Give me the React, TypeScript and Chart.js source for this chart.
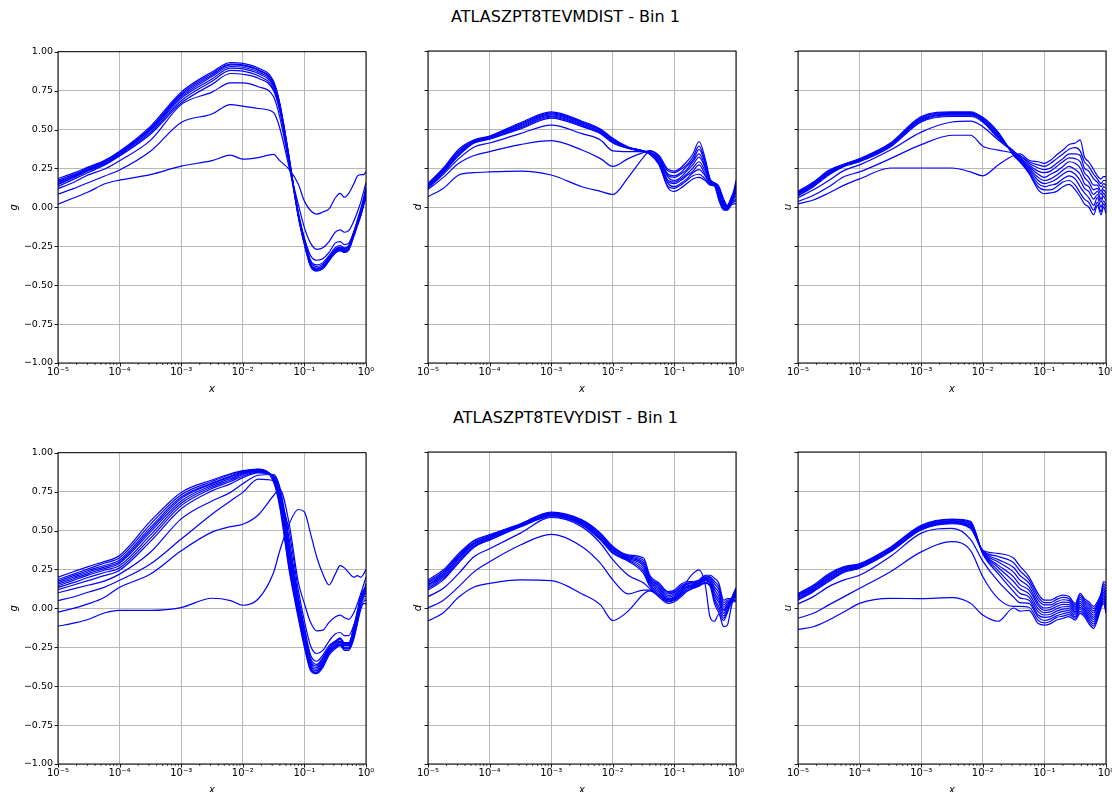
import React, { useEffect, useRef } from 'react';
import { Chart, registerables } from 'chart.js';
Chart.register(...registerables);

// ---------- data ----------
const LOGX = [-5, -4.75, -4.5, -4.25, -4, -3.5, -3, -2.5, -2.2, -2, -1.75, -1.5, -1.4, -1.25, -1.1, -1, -0.9, -0.8, -0.7, -0.6, -0.5, -0.42, -0.35, -0.28, -0.2, -0.14, -0.08, -0.04, 0];
const XS = LOGX.map((l) => Math.pow(10, l));

const X_TICKS = [1e-5, 1e-4, 1e-3, 1e-2, 1e-1, 1];
const X_TICK_LABELS = ['10⁻⁵', '10⁻⁴', '10⁻³', '10⁻²', '10⁻¹', '10⁰'];
const MINOR_MULT = [2, 3, 4, 5, 6, 7, 8, 9];
const Y_TICKS = [-1, -0.75, -0.5, -0.25, 0, 0.25, 0.5, 0.75, 1];
const Y_TICK_LABELS = ['−1.00', '−0.75', '−0.50', '−0.25', '0.00', '0.25', '0.50', '0.75', '1.00'];
const ROW_TITLES = ['ATLASZPT8TEVMDIST - Bin 1', 'ATLASZPT8TEVYDIST - Bin 1'];
const Y_NAMES = ['g', 'd', 'u'];

// top-left: g, MDIST
const MG_1 = [0.02,0.06,0.10,0.15,0.175,0.21,0.265,0.30,0.335,0.31,0.32,0.34,0.30,0.245,0.15,0.04,-0.02,-0.043,-0.03,-0.01,0.06,0.09,0.065,0.09,0.15,0.2,0.21,0.21,0.23];
const MG_2 = [0.085,0.12,0.16,0.20,0.24,0.36,0.545,0.60,0.66,0.65,0.635,0.61,0.51,0.26,0.02,-0.13,-0.23,-0.27,-0.26,-0.22,-0.16,-0.145,-0.16,-0.15,-0.09,-0.03,0.04,0.1,0.16];
const MG_3 = [0.12,0.16,0.21,0.245,0.30,0.43,0.66,0.74,0.80,0.80,0.775,0.71,0.58,0.28,-0.05,-0.2,-0.31,-0.34,-0.33,-0.29,-0.23,-0.22,-0.24,-0.23,-0.16,-0.08,0.0,0.06,0.13];
const MG_4 = [0.135,0.18,0.225,0.27,0.33,0.47,0.67,0.79,0.86,0.855,0.83,0.75,0.62,0.30,-0.03,-0.2,-0.34,-0.37,-0.355,-0.31,-0.26,-0.245,-0.26,-0.245,-0.16,-0.09,-0.02,0.04,0.12];
const MG_5 = [0.145,0.19,0.235,0.275,0.335,0.48,0.685,0.81,0.88,0.875,0.845,0.76,0.63,0.305,-0.035,-0.21,-0.35,-0.38,-0.365,-0.32,-0.27,-0.255,-0.265,-0.25,-0.165,-0.095,-0.025,0.035,0.11];
const MG_6 = [0.15,0.195,0.24,0.28,0.34,0.49,0.70,0.825,0.895,0.89,0.86,0.775,0.64,0.31,-0.04,-0.22,-0.36,-0.39,-0.375,-0.325,-0.275,-0.26,-0.27,-0.255,-0.17,-0.1,-0.03,0.03,0.10];
const MG_7 = [0.16,0.2,0.245,0.285,0.345,0.50,0.71,0.84,0.905,0.90,0.87,0.785,0.65,0.315,-0.045,-0.225,-0.365,-0.395,-0.38,-0.33,-0.28,-0.265,-0.275,-0.26,-0.175,-0.105,-0.035,0.025,0.09];
const MG_8 = [0.165,0.205,0.25,0.29,0.35,0.505,0.72,0.85,0.915,0.91,0.88,0.795,0.66,0.32,-0.05,-0.23,-0.37,-0.40,-0.385,-0.335,-0.285,-0.27,-0.28,-0.265,-0.18,-0.11,-0.04,0.02,0.08];
const MG_9 = [0.175,0.21,0.255,0.295,0.355,0.51,0.73,0.86,0.92,0.915,0.885,0.80,0.665,0.325,-0.055,-0.235,-0.375,-0.405,-0.39,-0.34,-0.29,-0.275,-0.285,-0.27,-0.185,-0.115,-0.045,0.015,0.07];
const MG_10 = [0.185,0.22,0.26,0.30,0.36,0.52,0.74,0.87,0.93,0.925,0.895,0.81,0.67,0.33,-0.06,-0.24,-0.38,-0.41,-0.395,-0.345,-0.295,-0.28,-0.29,-0.275,-0.19,-0.12,-0.05,0.01,0.06];

// top-middle: d, MDIST
const MD_1 = [0.066,0.12,0.205,0.22,0.225,0.23,0.205,0.13,0.10,0.08,0.19,0.32,0.36,0.33,0.24,0.23,0.25,0.29,0.34,0.42,0.31,0.18,0.155,0.135,0.05,0.01,0.06,0.10,0.17];
const MD_2 = [0.113,0.19,0.28,0.33,0.355,0.40,0.425,0.365,0.31,0.26,0.31,0.35,0.36,0.32,0.23,0.22,0.24,0.27,0.32,0.39,0.29,0.175,0.153,0.125,0.042,0.007,0.05,0.09,0.15];
const MD_3 = [0.12,0.21,0.31,0.385,0.41,0.47,0.525,0.47,0.43,0.36,0.355,0.355,0.36,0.32,0.21,0.20,0.22,0.26,0.30,0.37,0.28,0.17,0.15,0.115,0.034,0.003,0.05,0.08,0.13];
const MD_4 = [0.125,0.22,0.33,0.41,0.435,0.50,0.57,0.515,0.47,0.41,0.375,0.355,0.35,0.31,0.20,0.19,0.21,0.24,0.29,0.34,0.26,0.165,0.148,0.105,0.027,0.0,0.04,0.07,0.12];
const MD_5 = [0.13,0.225,0.335,0.413,0.438,0.507,0.577,0.52,0.475,0.415,0.377,0.356,0.35,0.30,0.19,0.17,0.19,0.23,0.27,0.32,0.25,0.16,0.146,0.095,0.019,-0.003,0.04,0.06,0.10];
const MD_6 = [0.135,0.23,0.34,0.416,0.441,0.513,0.583,0.526,0.48,0.42,0.378,0.357,0.35,0.30,0.17,0.16,0.18,0.21,0.25,0.29,0.23,0.16,0.144,0.085,0.011,-0.007,0.03,0.06,0.09];
const MD_7 = [0.14,0.235,0.35,0.42,0.445,0.52,0.59,0.532,0.485,0.425,0.38,0.358,0.35,0.29,0.16,0.15,0.17,0.20,0.23,0.27,0.21,0.155,0.142,0.075,0.003,-0.01,0.03,0.05,0.07];
const MD_8 = [0.14,0.24,0.355,0.423,0.448,0.527,0.597,0.538,0.49,0.43,0.382,0.358,0.34,0.28,0.15,0.13,0.15,0.18,0.22,0.24,0.2,0.15,0.14,0.065,-0.004,-0.013,0.02,0.04,0.05];
const MD_9 = [0.145,0.245,0.36,0.426,0.451,0.533,0.603,0.544,0.495,0.435,0.383,0.359,0.34,0.28,0.13,0.12,0.14,0.17,0.20,0.21,0.18,0.145,0.137,0.055,-0.012,-0.017,0.02,0.03,0.04];
const MD_10 = [0.15,0.25,0.37,0.43,0.455,0.54,0.61,0.55,0.50,0.44,0.385,0.36,0.34,0.27,0.12,0.10,0.12,0.15,0.18,0.19,0.17,0.14,0.135,0.045,-0.02,-0.02,0.01,0.02,0.02];

// top-right: u, MDIST
const MU_1 = [0.02,0.045,0.09,0.14,0.18,0.25,0.25,0.25,0.225,0.2,0.27,0.33,0.34,0.30,0.29,0.28,0.30,0.335,0.365,0.40,0.41,0.43,0.32,0.29,0.24,0.20,0.18,0.195,0.195];
const MU_2 = [0.035,0.075,0.13,0.195,0.225,0.31,0.40,0.46,0.46,0.39,0.365,0.345,0.33,0.29,0.27,0.26,0.28,0.31,0.34,0.37,0.38,0.36,0.29,0.26,0.21,0.18,0.15,0.17,0.17];
const MU_3 = [0.06,0.11,0.17,0.235,0.27,0.365,0.48,0.545,0.55,0.515,0.43,0.355,0.33,0.28,0.25,0.24,0.25,0.28,0.31,0.34,0.34,0.33,0.25,0.23,0.18,0.16,0.13,0.15,0.14];
const MU_4 = [0.07,0.13,0.205,0.26,0.29,0.385,0.545,0.58,0.58,0.545,0.44,0.36,0.32,0.27,0.23,0.22,0.23,0.26,0.29,0.315,0.31,0.29,0.22,0.19,0.14,0.14,0.10,0.13,0.12];
const MU_5 = [0.075,0.135,0.21,0.263,0.293,0.39,0.55,0.585,0.585,0.55,0.447,0.355,0.32,0.26,0.21,0.19,0.21,0.23,0.26,0.29,0.28,0.25,0.19,0.16,0.11,0.12,0.08,0.11,0.09];
const MU_6 = [0.08,0.14,0.215,0.265,0.297,0.394,0.556,0.59,0.59,0.555,0.453,0.35,0.31,0.25,0.19,0.17,0.18,0.205,0.235,0.26,0.24,0.21,0.15,0.13,0.08,0.10,0.05,0.09,0.065];
const MU_7 = [0.085,0.145,0.22,0.268,0.30,0.398,0.562,0.595,0.595,0.56,0.46,0.345,0.31,0.24,0.17,0.15,0.16,0.18,0.21,0.23,0.21,0.17,0.12,0.10,0.05,0.08,0.03,0.07,0.04];
const MU_8 = [0.09,0.15,0.225,0.27,0.303,0.402,0.568,0.60,0.60,0.565,0.467,0.34,0.30,0.23,0.15,0.13,0.14,0.15,0.18,0.20,0.18,0.13,0.09,0.06,0.01,0.06,0.0,0.04,0.01];
const MU_9 = [0.095,0.155,0.23,0.273,0.307,0.406,0.574,0.605,0.605,0.57,0.473,0.335,0.30,0.22,0.13,0.11,0.11,0.13,0.16,0.17,0.14,0.09,0.05,0.03,-0.02,0.03,-0.03,0.02,-0.01];
const MU_10 = [0.10,0.16,0.235,0.275,0.31,0.41,0.58,0.61,0.61,0.575,0.48,0.33,0.29,0.215,0.11,0.085,0.09,0.10,0.13,0.145,0.11,0.066,0.02,0.0,-0.05,0.01,-0.05,0.0,-0.04];

// bottom-left: g, YDIST
const YG_1 = [-0.115,-0.095,-0.07,-0.03,-0.013,-0.013,0.005,0.065,0.05,0.02,0.06,0.23,0.37,0.54,0.635,0.62,0.48,0.33,0.22,0.15,0.22,0.275,0.26,0.23,0.2,0.21,0.2,0.22,0.25];
const YG_2 = [-0.024,0.0,0.03,0.07,0.135,0.22,0.37,0.49,0.525,0.54,0.60,0.725,0.765,0.55,0.17,0.03,-0.09,-0.145,-0.14,-0.09,-0.055,-0.043,-0.06,-0.07,-0.03,0.03,0.1,0.15,0.2];
const YG_3 = [0.05,0.073,0.105,0.135,0.18,0.285,0.445,0.605,0.69,0.745,0.83,0.82,0.72,0.50,0.12,-0.08,-0.24,-0.29,-0.27,-0.21,-0.165,-0.155,-0.175,-0.175,-0.11,-0.04,0.04,0.1,0.16];
const YG_4 = [0.10,0.125,0.15,0.175,0.22,0.36,0.575,0.69,0.745,0.80,0.855,0.86,0.78,0.45,0.08,-0.12,-0.30,-0.34,-0.30,-0.24,-0.21,-0.19,-0.22,-0.22,-0.12,-0.015,0.09,0.12,0.14];
const YG_5 = [0.12,0.15,0.18,0.21,0.245,0.43,0.64,0.755,0.80,0.84,0.87,0.855,0.77,0.42,0.06,-0.14,-0.32,-0.36,-0.315,-0.25,-0.215,-0.195,-0.225,-0.225,-0.13,-0.025,0.08,0.11,0.13];
const YG_6 = [0.135,0.165,0.2,0.23,0.26,0.45,0.66,0.77,0.815,0.85,0.875,0.85,0.75,0.39,0.04,-0.16,-0.335,-0.37,-0.325,-0.26,-0.22,-0.2,-0.23,-0.23,-0.14,-0.035,0.07,0.10,0.12];
const YG_7 = [0.145,0.18,0.215,0.245,0.275,0.47,0.675,0.78,0.825,0.86,0.88,0.845,0.73,0.36,0.02,-0.18,-0.35,-0.38,-0.335,-0.265,-0.225,-0.21,-0.235,-0.235,-0.15,-0.045,0.06,0.09,0.11];
const YG_8 = [0.155,0.19,0.225,0.255,0.29,0.49,0.69,0.79,0.835,0.865,0.885,0.84,0.72,0.34,0.0,-0.19,-0.36,-0.39,-0.345,-0.27,-0.235,-0.215,-0.24,-0.24,-0.16,-0.055,0.05,0.08,0.10];
const YG_9 = [0.165,0.2,0.235,0.265,0.30,0.505,0.705,0.80,0.845,0.87,0.888,0.835,0.70,0.31,-0.02,-0.21,-0.37,-0.40,-0.355,-0.28,-0.24,-0.22,-0.25,-0.25,-0.17,-0.065,0.04,0.07,0.08];
const YG_10 = [0.175,0.21,0.245,0.275,0.31,0.52,0.715,0.805,0.85,0.875,0.89,0.83,0.68,0.29,-0.03,-0.22,-0.38,-0.41,-0.36,-0.285,-0.245,-0.23,-0.255,-0.255,-0.18,-0.075,0.03,0.06,0.06];
const YG_11 = [0.185,0.22,0.255,0.29,0.325,0.54,0.73,0.815,0.86,0.88,0.893,0.82,0.67,0.27,-0.05,-0.24,-0.39,-0.415,-0.37,-0.29,-0.25,-0.235,-0.26,-0.26,-0.19,-0.085,0.015,0.045,0.05];
const YG_12 = [0.20,0.235,0.27,0.30,0.34,0.56,0.745,0.825,0.865,0.885,0.895,0.81,0.65,0.25,-0.06,-0.25,-0.40,-0.42,-0.38,-0.30,-0.26,-0.24,-0.27,-0.27,-0.2,-0.1,0.0,0.03,0.03];

// bottom-middle: d, YDIST
const YD_1 = [-0.083,-0.03,0.07,0.135,0.158,0.18,0.175,0.09,0.02,-0.08,-0.02,0.09,0.11,0.08,0.05,0.06,0.10,0.17,0.22,0.245,0.15,-0.06,-0.085,-0.04,-0.12,-0.11,0.0,0.06,0.08];
const YD_2 = [0.0,0.05,0.137,0.233,0.297,0.404,0.472,0.393,0.286,0.18,0.09,0.115,0.115,0.07,0.03,0.04,0.07,0.105,0.125,0.14,0.16,0.14,0.03,-0.03,-0.08,-0.03,0.03,0.04,0.04];
const YD_3 = [0.073,0.126,0.222,0.33,0.38,0.48,0.58,0.52,0.415,0.31,0.21,0.16,0.125,0.08,0.04,0.05,0.08,0.11,0.13,0.145,0.165,0.15,0.05,-0.01,-0.065,-0.02,0.033,0.047,0.05];
const YD_4 = [0.115,0.18,0.29,0.39,0.435,0.52,0.585,0.53,0.435,0.35,0.30,0.22,0.14,0.09,0.045,0.055,0.085,0.12,0.135,0.15,0.175,0.155,0.065,0.01,-0.05,-0.01,0.037,0.053,0.06];
const YD_5 = [0.125,0.19,0.30,0.395,0.44,0.523,0.59,0.535,0.442,0.356,0.306,0.235,0.15,0.10,0.055,0.065,0.095,0.13,0.14,0.155,0.18,0.165,0.085,0.035,-0.035,0.0,0.04,0.06,0.07];
const YD_6 = [0.135,0.2,0.31,0.40,0.445,0.526,0.594,0.54,0.448,0.363,0.311,0.25,0.16,0.11,0.06,0.07,0.10,0.135,0.145,0.16,0.185,0.17,0.10,0.055,-0.02,0.01,0.043,0.065,0.08];
const YD_7 = [0.145,0.21,0.32,0.41,0.45,0.529,0.598,0.545,0.455,0.37,0.317,0.265,0.17,0.12,0.07,0.08,0.11,0.14,0.15,0.16,0.19,0.18,0.12,0.075,-0.01,0.02,0.047,0.07,0.09];
const YD_8 = [0.15,0.22,0.325,0.415,0.455,0.531,0.602,0.55,0.461,0.376,0.323,0.28,0.18,0.13,0.08,0.09,0.12,0.15,0.155,0.165,0.195,0.185,0.135,0.10,0.005,0.03,0.05,0.077,0.10];
const YD_9 = [0.16,0.23,0.335,0.42,0.46,0.534,0.606,0.555,0.468,0.383,0.329,0.29,0.19,0.14,0.09,0.10,0.13,0.155,0.16,0.17,0.2,0.195,0.155,0.12,0.02,0.04,0.053,0.083,0.11];
const YD_10 = [0.17,0.235,0.34,0.43,0.465,0.537,0.61,0.56,0.474,0.389,0.334,0.305,0.20,0.15,0.10,0.105,0.14,0.16,0.165,0.175,0.205,0.2,0.17,0.14,0.035,0.05,0.057,0.09,0.12];
const YD_11 = [0.18,0.245,0.35,0.435,0.47,0.54,0.615,0.565,0.48,0.395,0.34,0.32,0.21,0.16,0.105,0.115,0.15,0.17,0.17,0.18,0.21,0.21,0.19,0.16,0.05,0.06,0.06,0.095,0.13];

// bottom-right: u, YDIST
const YU_1 = [-0.137,-0.12,-0.077,-0.024,0.03,0.062,0.06,0.066,0.03,-0.045,-0.085,0.0,-0.02,-0.015,-0.10,-0.11,-0.10,-0.077,-0.066,-0.055,-0.077,-0.034,-0.055,-0.10,-0.13,-0.077,0.0,0.03,-0.034];
const YU_2 = [-0.066,-0.034,0.02,0.073,0.126,0.233,0.36,0.425,0.37,0.2,0.06,0.01,0.01,0.005,-0.08,-0.095,-0.085,-0.06,-0.052,-0.042,-0.066,-0.021,-0.043,-0.086,-0.116,-0.065,0.009,0.044,-0.015];
const YU_3 = [0.026,0.073,0.137,0.18,0.21,0.33,0.48,0.51,0.44,0.30,0.17,0.07,0.035,0.03,-0.06,-0.08,-0.07,-0.05,-0.037,-0.03,-0.056,-0.008,-0.032,-0.072,-0.102,-0.054,0.019,0.058,0.005];
const YU_4 = [0.05,0.105,0.17,0.23,0.255,0.36,0.50,0.54,0.51,0.37,0.35,0.32,0.27,0.20,0.09,0.05,0.05,0.07,0.083,0.073,0.03,0.094,0.06,0.04,0.01,0.04,0.094,0.17,0.16];
const YU_5 = [0.056,0.111,0.177,0.235,0.259,0.364,0.504,0.544,0.516,0.367,0.33,0.29,0.24,0.18,0.07,0.035,0.035,0.055,0.068,0.06,0.02,0.081,0.049,0.026,-0.004,0.028,0.085,0.156,0.14];
const YU_6 = [0.063,0.117,0.184,0.24,0.263,0.369,0.509,0.549,0.523,0.364,0.31,0.26,0.21,0.16,0.05,0.02,0.02,0.04,0.053,0.047,0.009,0.068,0.037,0.012,-0.018,0.017,0.075,0.142,0.12];
const YU_7 = [0.069,0.123,0.191,0.245,0.267,0.373,0.513,0.553,0.529,0.36,0.295,0.23,0.18,0.135,0.03,0.0,0.005,0.025,0.038,0.035,-0.002,0.056,0.026,-0.002,-0.032,0.005,0.066,0.128,0.10];
const YU_8 = [0.075,0.129,0.198,0.25,0.272,0.377,0.517,0.557,0.536,0.357,0.275,0.20,0.15,0.115,0.015,-0.015,-0.01,0.01,0.023,0.022,-0.013,0.043,0.014,-0.016,-0.046,-0.007,0.056,0.114,0.082];
const YU_9 = [0.081,0.135,0.205,0.255,0.276,0.381,0.521,0.561,0.542,0.354,0.26,0.17,0.125,0.09,-0.005,-0.03,-0.025,-0.005,0.008,0.009,-0.024,0.03,0.003,-0.03,-0.06,-0.019,0.047,0.10,0.063];
const YU_10 = [0.088,0.141,0.212,0.26,0.28,0.386,0.526,0.566,0.549,0.35,0.24,0.135,0.095,0.07,-0.025,-0.045,-0.04,-0.02,-0.007,-0.004,-0.034,0.017,-0.009,-0.044,-0.074,-0.03,0.038,0.086,0.043];
const YU_11 = [0.094,0.147,0.22,0.265,0.285,0.39,0.53,0.57,0.555,0.347,0.22,0.105,0.065,0.05,-0.045,-0.06,-0.055,-0.035,-0.022,-0.017,-0.045,0.004,-0.02,-0.058,-0.088,-0.042,0.028,0.072,0.024];

const TOP_G = [MG_1, MG_2, MG_3, MG_4, MG_5, MG_6, MG_7, MG_8, MG_9, MG_10];
const TOP_D = [MD_1, MD_2, MD_3, MD_4, MD_5, MD_6, MD_7, MD_8, MD_9, MD_10];
const TOP_U = [MU_1, MU_2, MU_3, MU_4, MU_5, MU_6, MU_7, MU_8, MU_9, MU_10];
const BOT_G = [YG_1, YG_2, YG_3, YG_4, YG_5, YG_6, YG_7, YG_8, YG_9, YG_10, YG_11, YG_12];
const BOT_D = [YD_1, YD_2, YD_3, YD_4, YD_5, YD_6, YD_7, YD_8, YD_9, YD_10, YD_11];
const BOT_U = [YU_1, YU_2, YU_3, YU_4, YU_5, YU_6, YU_7, YU_8, YU_9, YU_10, YU_11];

const PANEL_CURVES = [[TOP_G, TOP_D, TOP_U], [BOT_G, BOT_D, BOT_U]];

// ---------- layout ----------
const FONT = "'DejaVu Sans', sans-serif";
const PLOT_LEFTS = [58, 428, 798];
const PLOT_TOPS = [51, 452];
const PLOT_W = 308;
const PLOT_H = 312;
const PAD_T = 10;
const PAD_R = 12;
const X_AXIS_H = 36;
const AXIS_W = [54, 20, 20];

const axisDecor = {
  id: 'axisDecor',
  afterDraw(chart: any) {
    const { ctx, chartArea: a, scales } = chart;
    const xs = scales.x;
    const ys = scales.y;
    ctx.save();
    ctx.strokeStyle = '#000';
    ctx.lineWidth = 0.9;
    ctx.beginPath();
    X_TICKS.forEach((v) => {
      const px = Math.round(xs.getPixelForValue(v)) + 0.5;
      ctx.moveTo(px, a.bottom);
      ctx.lineTo(px, a.bottom + 3.5);
    });
    Y_TICKS.forEach((v) => {
      const py = Math.round(ys.getPixelForValue(v)) + 0.5;
      ctx.moveTo(a.left, py);
      ctx.lineTo(a.left - 3.5, py);
    });
    ctx.stroke();
    ctx.lineWidth = 0.7;
    ctx.beginPath();
    X_TICKS.slice(0, -1).forEach((d) => {
      MINOR_MULT.forEach((m) => {
        const px = xs.getPixelForValue(d * m);
        ctx.moveTo(px, a.bottom);
        ctx.lineTo(px, a.bottom + 2);
      });
    });
    ctx.stroke();
    ctx.lineWidth = 1;
    ctx.strokeRect(a.left, a.top, a.right - a.left, a.bottom - a.top);
    ctx.restore();
  },
};

function Panel({ curves, yName, row, col }: any) {
  const ref = useRef<HTMLCanvasElement>(null);
  const axisW = AXIS_W[col];
  const w = axisW + PLOT_W + PAD_R;
  const h = PAD_T + PLOT_H + X_AXIS_H;
  useEffect(() => {
    const canvas = ref.current as HTMLCanvasElement;
    const chart = new Chart(canvas, {
      type: 'line',
      data: {
        datasets: curves.map((c: number[]) => ({
          data: c.map((y, i) => ({ x: XS[i], y })),
          borderColor: '#0000ff',
          borderWidth: 1.2,
          pointRadius: 0,
          fill: false,
          cubicInterpolationMode: 'monotone',
        })),
      },
      options: {
        animation: false,
        responsive: false,
        maintainAspectRatio: false,
        events: [],
        layout: { padding: { top: PAD_T, right: PAD_R, left: 0, bottom: 0 } },
        plugins: { legend: { display: false }, tooltip: { enabled: false }, title: { display: false } },
        scales: {
          x: {
            type: 'logarithmic',
            min: 1e-5,
            max: 1,
            afterBuildTicks: (s: any) => {
              s.ticks = X_TICKS.map((v) => ({ value: v, major: true }));
            },
            afterFit: (s: any) => {
              s.height = X_AXIS_H;
            },
            grid: { color: '#b0b0b0', lineWidth: 0.9, drawTicks: false },
            border: { display: false },
            ticks: {
              callback: (_v: any, i: number) => X_TICK_LABELS[i],
              font: { family: FONT, size: 10 },
              color: '#000',
              padding: 3,
              maxRotation: 0,
              autoSkip: false,
            },
            title: {
              display: true,
              text: 'x',
              font: { family: FONT, size: 10, style: 'italic' },
              color: '#000',
              padding: { top: 0, bottom: 4 },
            },
          },
          y: {
            type: 'linear',
            min: -1,
            max: 1,
            afterBuildTicks: (s: any) => {
              s.ticks = Y_TICKS.map((v) => ({ value: v }));
            },
            afterFit: (s: any) => {
              s.width = axisW;
            },
            grid: { color: '#b0b0b0', lineWidth: 0.9, drawTicks: false },
            border: { display: false },
            ticks: {
              display: col === 0,
              callback: (_v: any, i: number) => Y_TICK_LABELS[i],
              font: { family: FONT, size: 9.5 },
              color: '#000',
              padding: 5,
            },
            title: {
              display: true,
              text: yName,
              font: { family: FONT, size: 10, style: 'italic' },
              color: '#000',
              padding: { top: 4, bottom: 4 },
            },
          },
        },
      } as any,
      plugins: [axisDecor],
    });
    return () => chart.destroy();
  }, []);
  return (
    <canvas
      ref={ref}
      width={w}
      height={h}
      style={{ position: 'absolute', left: PLOT_LEFTS[col] - axisW, top: PLOT_TOPS[row] - PAD_T, width: w, height: h }}
    />
  );
}

export default function App() {
  useEffect(() => {
    document.body.style.margin = '0';
  }, []);
  return (
    <div style={{ position: 'relative', width: 1112, height: 792, overflow: 'hidden', background: '#fff' }}>
      {ROW_TITLES.map((t, r) => (
        <div
          key={t}
          style={{
            position: 'absolute',
            left: 0,
            width: 1131,
            top: r === 0 ? 7 : 408,
            textAlign: 'center',
            fontFamily: FONT,
            fontSize: 16,
            lineHeight: '20px',
            color: '#000',
          }}
        >
          {t}
        </div>
      ))}
      {PANEL_CURVES.map((rowCurves, r) =>
        rowCurves.map((curves, c) => (
          <Panel key={`${r}-${c}`} curves={curves} yName={Y_NAMES[c]} row={r} col={c} />
        ))
      )}
    </div>
  );
}
